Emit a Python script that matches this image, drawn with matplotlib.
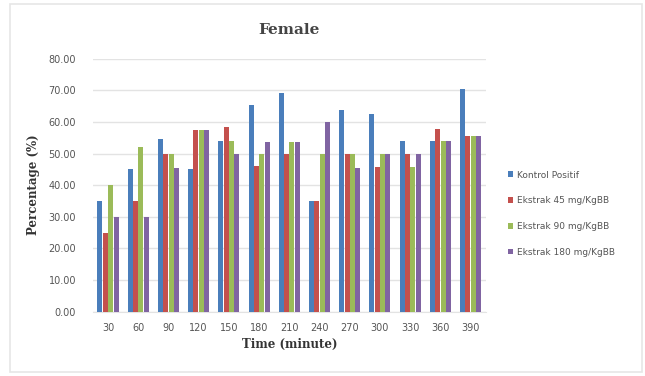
import numpy as np
import matplotlib.pyplot as plt
from matplotlib.patches import Rectangle

# data
times = ['30', '60', '90', '120', '150', '180', '210', '240', '270', '300', '330', '360', '390']
kontrol = [35, 45, 54.5, 45, 54, 65.5, 69.2, 35, 63.8, 62.5, 54, 54, 70.5]
ekstrak45 = [25, 35, 50, 57.5, 58.3, 46, 50, 35, 50, 45.8, 50, 57.7, 55.7]
ekstrak90 = [40, 52, 50, 57.5, 54, 50, 53.8, 50, 50, 50, 45.8, 54, 55.7]
ekstrak180 = [30, 30, 45.5, 57.5, 50, 53.8, 53.8, 60, 45.5, 50, 50, 54, 55.7]

series = [
    ('Kontrol Positif', kontrol, '#4A7EBB'),
    ('Ekstrak 45 mg/KgBB', ekstrak45, '#C4504D'),
    ('Ekstrak 90 mg/KgBB', ekstrak90, '#9BBB59'),
    ('Ekstrak 180 mg/KgBB', ekstrak180, '#8064A2'),
]

fig = plt.figure(figsize=(6.45, 3.76), dpi=100)
fig.patches.append(Rectangle((10 / 645, 4 / 376), 632 / 645, 368 / 376, transform=fig.transFigure,
                             fill=False, edgecolor='#e6e6e6', linewidth=1.2))
ax = fig.add_axes([0.144, 0.171, 0.609, 0.673])

x = np.arange(len(times))
w = 0.165
for i, (name, vals, col) in enumerate(series):
    ax.bar(x + (i - 1.5) * (w + 0.012), vals, width=w, color=col, label=name, zorder=3)

ax.set_xlim(-0.5, len(times) - 0.5)
ax.set_ylim(0, 80)
ax.set_yticks(np.arange(0, 81, 10))
ax.set_yticklabels(['%.2f' % v for v in np.arange(0, 81, 10)])
ax.set_xticks(x)
ax.set_xticklabels(times)
ax.tick_params(axis='both', length=0, labelsize=7, labelcolor='#555555', pad=8)
ax.tick_params(axis='y', pad=12)
ax.yaxis.grid(True, color='#e3e3e3', linewidth=1, zorder=0)
for s in ['top', 'right', 'left']:
    ax.spines[s].set_visible(False)
ax.spines['bottom'].set_color('#e3e3e3')

ax.set_title('Female', fontfamily='DejaVu Serif', fontweight='bold', fontsize=11,
             color='#444444', pad=18)
ax.set_ylabel('Percentage (%)', fontfamily='DejaVu Serif', fontweight='bold', fontsize=8.5,
              color='#333333', labelpad=6)
ax.set_xlabel('Time (minute)', fontfamily='DejaVu Serif', fontweight='bold', fontsize=8.5,
              color='#333333', labelpad=4)

leg = ax.legend(loc='upper left', bbox_to_anchor=(1.035, 0.59), frameon=False, fontsize=6.5,
                handlelength=0.6, handleheight=0.6, handletextpad=0.4, labelspacing=1.85)
for t in leg.get_texts():
    t.set_color('#555555')

fig.savefig('out.png', dpi=100)
